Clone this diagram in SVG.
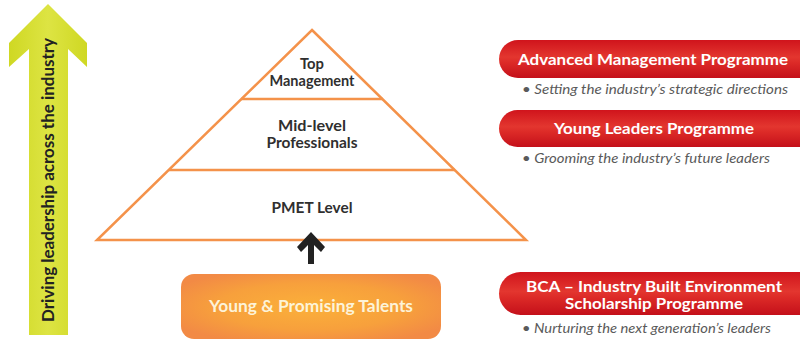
<svg xmlns="http://www.w3.org/2000/svg" width="800" height="340" viewBox="0 0 800 340">
<defs>
<linearGradient id="green" x1="0" y1="0" x2="1" y2="0">
<stop offset="0" stop-color="#cfd823"/>
<stop offset="0.5" stop-color="#dde443"/>
<stop offset="1" stop-color="#cfd823"/>
</linearGradient>
<linearGradient id="red" x1="0" y1="0" x2="0" y2="1">
<stop offset="0" stop-color="#d0141c"/>
<stop offset="0.45" stop-color="#e3362f"/>
<stop offset="0.6" stop-color="#dc2a27"/>
<stop offset="1" stop-color="#c4101a"/>
</linearGradient>
<radialGradient id="orange" cx="0.5" cy="0.5" r="0.6">
<stop offset="0" stop-color="#fbb03a"/>
<stop offset="0.6" stop-color="#f7a03c"/>
<stop offset="1" stop-color="#f28a45"/>
</radialGradient>
<style>
.tier{fill:none;stroke:#f4924a;stroke-width:2.5;stroke-linejoin:miter}
.pt{font-family:"Lato","Liberation Sans",sans-serif;font-weight:bold;font-size:15px;fill:#2f2f2f;text-anchor:middle}
.pill{font-family:"Lato","Liberation Sans",sans-serif;font-weight:bold;font-size:16px;fill:#ffffff;text-anchor:middle}
.pill2{font-size:14.5px}
.bul{font-family:"Lato","Liberation Sans",sans-serif;font-style:italic;font-size:14px;fill:#5a5a5a}
</style>
</defs>
<g id="driving-arrow">
<polygon points="48,4 87,43 87,67 68,49 68,335 29,335 29,49 9,67 9,43" fill="url(#green)"/>
<text transform="translate(54,180) rotate(-90)" font-family="Lato,'Liberation Sans',sans-serif" font-weight="bold" font-size="17" fill="#222" text-anchor="middle" textLength="284" lengthAdjust="spacingAndGlyphs">Driving leadership across the industry</text>
</g>
<g id="pyramid">
<polygon class="tier" points="312,30 526,240 97,240"/>
<line class="tier" x1="241" y1="99" x2="383" y2="99"/>
<line class="tier" x1="169" y1="170" x2="455" y2="170"/>
</g>
<g id="top-management">
<text class="pt" x="312" y="69" textLength="24" lengthAdjust="spacingAndGlyphs">Top</text>
<text class="pt" x="312" y="86" textLength="85" lengthAdjust="spacingAndGlyphs">Management</text>
</g>
<g id="mid-level">
<text class="pt" x="312" y="131" textLength="68" lengthAdjust="spacingAndGlyphs">Mid-level</text>
<text class="pt" x="312" y="148" textLength="91" lengthAdjust="spacingAndGlyphs">Professionals</text>
</g>
<g id="pmet">
<text class="pt" x="312" y="213" textLength="81" lengthAdjust="spacingAndGlyphs">PMET Level</text>
</g>
<g id="connectors">
<polygon points="311,232 325,247 321,252 314,245 314,264 308,264 308,245 301,252 297,247" fill="#222"/>
</g>
<g id="young-talents">
<rect x="181" y="274" width="260" height="65" rx="13" fill="url(#orange)"/>
<text x="311" y="312" font-family="Lato,'Liberation Sans',sans-serif" font-weight="bold" font-size="17" fill="#fdf3d8" text-anchor="middle" textLength="204" lengthAdjust="spacingAndGlyphs">Young &amp; Promising Talents</text>
</g>
<g id="advanced-management">
<rect x="499" y="40" width="330" height="38" rx="19" fill="url(#red)"/>
<text class="pill" x="653" y="65" textLength="270" lengthAdjust="spacingAndGlyphs">Advanced Management Programme</text>
<text class="bul" x="522" y="94" textLength="266" lengthAdjust="spacingAndGlyphs">• Setting the industry’s strategic directions</text>
</g>
<g id="young-leaders">
<rect x="499" y="110" width="330" height="37" rx="18.5" fill="url(#red)"/>
<text class="pill" x="654" y="134" textLength="200" lengthAdjust="spacingAndGlyphs">Young Leaders Programme</text>
<text class="bul" x="522" y="163" textLength="248" lengthAdjust="spacingAndGlyphs">• Grooming the industry’s future leaders</text>
</g>
<g id="bca-scholarship">
<rect x="499" y="272" width="330" height="43" rx="21.5" fill="url(#red)"/>
<text class="pill pill2" x="654" y="292" textLength="256" lengthAdjust="spacingAndGlyphs">BCA – Industry Built Environment</text>
<text class="pill pill2" x="654" y="309" textLength="178" lengthAdjust="spacingAndGlyphs">Scholarship Programme</text>
<text class="bul" x="522" y="333" textLength="249" lengthAdjust="spacingAndGlyphs">• Nurturing the next generation’s leaders</text>
</g>
</svg>
